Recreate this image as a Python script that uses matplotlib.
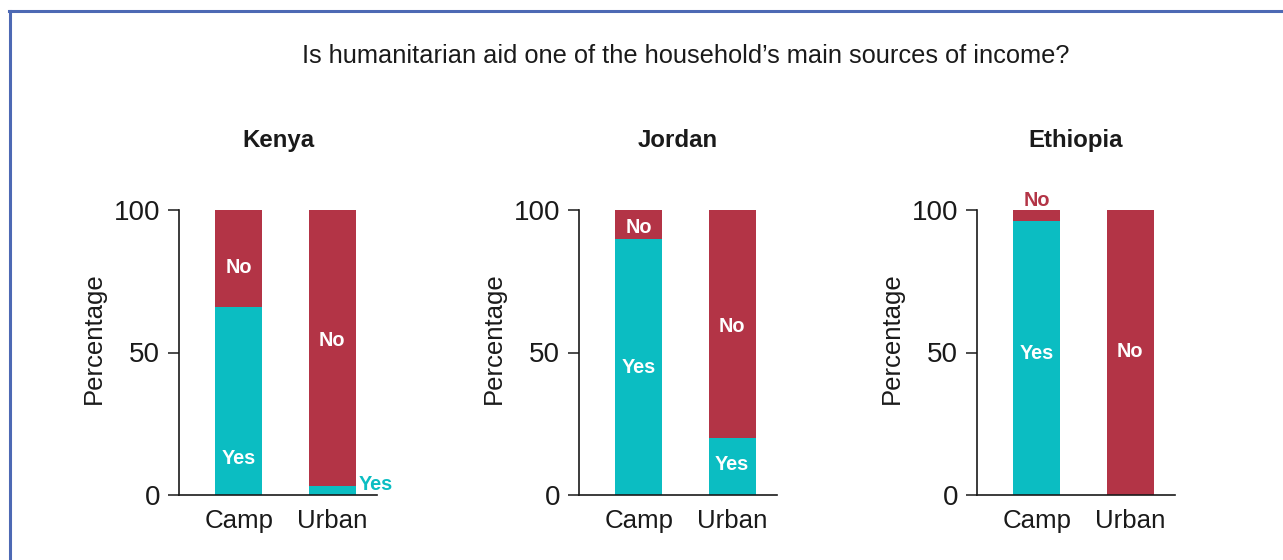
import matplotlib
matplotlib.use("Agg")
import matplotlib.pyplot as plt
from matplotlib.lines import Line2D

plt.rcParams['font.family'] = ['Liberation Sans', 'DejaVu Sans']

# Data
countries = ["Kenya", "Jordan", "Ethiopia"]
settings = ["Camp", "Urban"]
yes_pct = {"Kenya": [66, 3], "Jordan": [90, 20], "Ethiopia": [96, 0]}
no_pct = {c: [100 - v for v in yes_pct[c]] for c in countries}
yticks = [0, 50, 100]
title = "Is humanitarian aid one of the household\u2019s main sources of income?"

TEAL = "#0bbdc2"
RED = "#b33446"
INK = "#1a1a1a"

# label placement: (bar index, text, y, colour, x offset, ha)
labels = {
    "Kenya": [(0, "No", 79.7, "white", 0, "center"), (0, "Yes", 12.7, "white", 0, "center"),
              (1, "No", 54.3, "white", 0, "center"), (1, "Yes", 3.6, TEAL, 0.28, "left")],
    "Jordan": [(0, "No", 94.0, "white", 0, "center"), (0, "Yes", 44.7, "white", 0, "center"),
               (1, "No", 59.0, "white", 0, "center"), (1, "Yes", 10.6, "white", 0, "center")],
    "Ethiopia": [(0, "No", 103.3, RED, 0, "center"), (0, "Yes", 49.8, "white", 0, "center"),
                 (1, "No", 50.3, "white", 0, "center")],
}

W, H = 1283, 560
fig = plt.figure(figsize=(W / 100, H / 100), dpi=100)

# frame lines along top and left
fig.add_artist(Line2D([9 / W, 1], [1 - 10.8 / H, 1 - 10.8 / H], color="#4d69b4", lw=2.2,
                      transform=fig.transFigure))
fig.add_artist(Line2D([9.8 / W, 9.8 / W], [0, 1 - 10.8 / H], color="#4d69b4", lw=2.2,
                      transform=fig.transFigure))

fig.text(686 / W, 1 - 56 / H, title, ha="center", va="center", fontsize=18.3, color=INK)

lefts = [179, 579, 977]
for c, left in zip(countries, lefts):
    ax = fig.add_axes([left / W, 1 - 495 / H, 198 / W, 285 / H])
    x = list(range(len(settings)))
    ax.bar(x, yes_pct[c], width=0.5, color=TEAL, linewidth=0)
    ax.bar(x, no_pct[c], bottom=yes_pct[c], width=0.5, color=RED, linewidth=0)
    ax.set_xlim(-0.64, 1.48)
    ax.set_ylim(0, 100)
    ax.set_yticks(yticks)
    ax.set_xticks(x)
    ax.set_xticklabels(settings)
    for s in ["top", "right"]:
        ax.spines[s].set_visible(False)
    for s in ["left", "bottom"]:
        ax.spines[s].set_color(INK)
        ax.spines[s].set_linewidth(1.2)
    ax.tick_params(axis="y", length=7.7, width=1.1, color=INK, pad=6, labelsize=20,
                   labelcolor=INK)
    ax.tick_params(axis="x", length=0, pad=10, labelsize=18.6, labelcolor=INK)
    ax.set_ylabel("Percentage", fontsize=18.5, color=INK)
    ax.yaxis.set_label_coords(-0.37, 0.55)
    ax.text(0.5, 1 + 70 / 285, c, transform=ax.transAxes, ha="center", va="center",
            fontsize=17.3, fontweight="bold", color=INK)
    for i, txt, yv, col, dx, ha in labels[c]:
        ax.text(i + dx, yv, txt, ha=ha, va="center", fontsize=14.3, fontweight="bold",
                color=col, clip_on=False)

fig.savefig("out.png", dpi=100, facecolor="white")
